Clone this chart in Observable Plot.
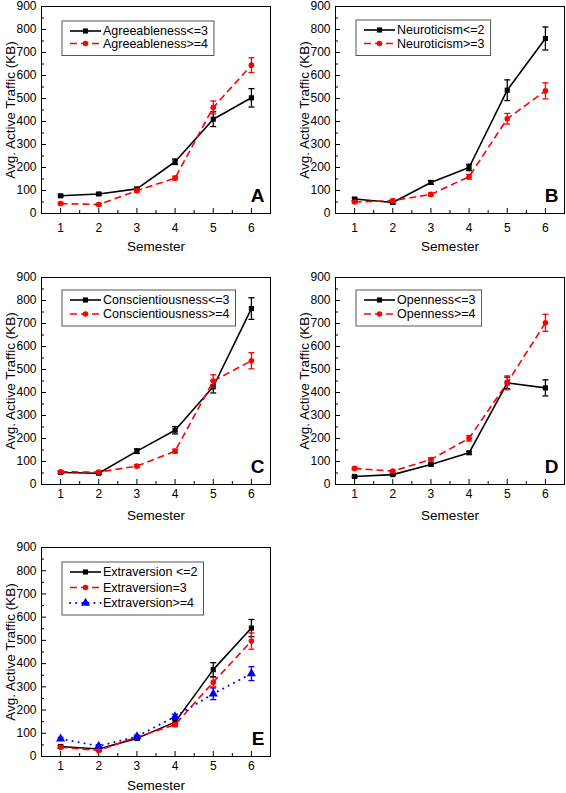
<!DOCTYPE html>
<html><head><meta charset="utf-8">
<script src="https://cdn.jsdelivr.net/npm/d3@7"></script>
<script src="https://cdn.jsdelivr.net/npm/@observablehq/plot@0.6"></script>
<style>
html,body{margin:0;padding:0;background:#fff;}
#root{position:relative;width:566px;height:793px;overflow:hidden;font-family:"Liberation Sans",Arial,sans-serif;}
#root svg{position:absolute;overflow:visible;}
</style></head><body><div id="root"></div>
<script>
// ---------- data ----------
const semesters = [1, 2, 3, 4, 5, 6];
const minorX = [1.5, 2.5, 3.5, 4.5, 5.5];
const yTicks = [0, 100, 200, 300, 400, 500, 600, 700, 800, 900];
const minorY = [50, 150, 250, 350, 450, 550, 650, 750, 850];
const yTitle = "Avg. Active Traffic (KB)";
const xTitle = "Semester";

// A
const agreeLow = [77, 85, 107, 225, 410, 503];
const agreeLowErr = [5, 5, 6, 12, 32, 40];
const agreeHigh = [43, 39, 99, 154, 461, 645];
const agreeHighErr = [5, 5, 6, 8, 28, 32];
// B
const neuroLow = [63, 48, 135, 200, 536, 761];
const neuroLowErr = [6, 5, 8, 14, 45, 50];
const neuroHigh = [50, 56, 83, 160, 412, 533];
const neuroHighErr = [5, 5, 6, 10, 23, 35];
// C
const consLow = [52, 49, 145, 236, 425, 765];
const consLowErr = [5, 5, 10, 16, 27, 47];
const consHigh = [55, 54, 80, 145, 450, 538];
const consHighErr = [5, 5, 6, 8, 27, 35];
// D
const openLow = [35, 43, 87, 138, 442, 420];
const openLowErr = [4, 4, 5, 6, 25, 35];
const openHigh = [70, 58, 109, 201, 442, 703];
const openHighErr = [5, 5, 6, 12, 30, 37];
// E
const extraLow = [43, 32, 78, 148, 374, 553];
const extraLowErr = [5, 5, 6, 10, 30, 37];
const extraMid = [40, 26, 84, 137, 320, 497];
const extraMidErr = [5, 5, 6, 8, 20, 35];
const extraHigh = [76, 45, 86, 172, 270, 357];
const extraHighErr = [6, 6, 6, 10, 25, 30];

// ---------- styles ----------
const styles = {
  black: {color: "#000000", dash: null, cap: "butt", symbol: "square", r: 2.9},
  red: {color: "#ff0000", dash: "7,4", cap: "butt", symbol: "circle", r: 2.8},
  blue: {color: "#0000ff", dash: "0.1,6", cap: "round", symbol: "triangle", r: 3.4}
};

const panels = [
  {letter: "A", left: 0, top: 0, plotH: 207, height: 262, xPad: 15, titleDy: 33, legTop: 15, rowH: 12.5,
   series: [
     {name: "Agreeableness<=3", values: agreeLow, errors: agreeLowErr, style: "black"},
     {name: "Agreeableness>=4", values: agreeHigh, errors: agreeHighErr, style: "red"}]},
  {letter: "B", left: 294, top: 0, plotH: 207, height: 262, xPad: 15, titleDy: 33, legTop: 14, rowH: 13.5,
   series: [
     {name: "Neuroticism<=2", values: neuroLow, errors: neuroLowErr, style: "black"},
     {name: "Neuroticism>=3", values: neuroHigh, errors: neuroHighErr, style: "red"}]},
  {letter: "C", left: 0, top: 271, plotH: 207, height: 263, xPad: 10, titleDy: 31, legTop: 13, rowH: 14,
   series: [
     {name: "Conscientiousness<=3", values: consLow, errors: consLowErr, style: "black"},
     {name: "Conscientiousness>=4", values: consHigh, errors: consHighErr, style: "red"}]},
  {letter: "D", left: 294, top: 271, plotH: 207, height: 263, xPad: 10, titleDy: 31, legTop: 13, rowH: 14,
   series: [
     {name: "Openness<=3", values: openLow, errors: openLowErr, style: "black"},
     {name: "Openness>=4", values: openHigh, errors: openHighErr, style: "red"}]},
  {letter: "E", left: 0, top: 541, plotH: 209, height: 252, xPad: 10, titleDy: 29, legTop: 15, rowH: 15.5,
   series: [
     {name: "Extraversion <=2", values: extraLow, errors: extraLowErr, style: "black"},
     {name: "Extraversion=3", values: extraMid, errors: extraMidErr, style: "red"},
     {name: "Extraversion>=4", values: extraHigh, errors: extraHighErr, style: "blue"}]}
];

const capSymbol = {
  draw(ctx, size) {
    const w = Math.sqrt(size / Math.PI);
    ctx.moveTo(-w, 0); ctx.lineTo(w, 0);
  }
};

const root = document.getElementById("root");
const FONT = "'Liberation Sans', Arial, sans-serif";
const MT = 6;

for (const p of panels) {
  const marks = [
    Plot.axisX(semesters, {tickSize: -5, tickPadding: p.xPad, tickFormat: d => String(d), label: null, fontSize: 12}),
    Plot.axisX(minorX, {tickSize: -3, tickFormat: () => "", label: null}),
    Plot.axisY(yTicks, {tickSize: -5, tickPadding: 10, tickFormat: d => String(d), label: null, fontSize: 12}),
    Plot.axisY(minorY, {tickSize: -3, tickFormat: () => "", label: null})
  ];
  for (const s of p.series) {
    const st = styles[s.style];
    const rows = semesters.map((x, i) => ({x, y: s.values[i], lo: s.values[i] - s.errors[i], hi: s.values[i] + s.errors[i]}));
    marks.push(
      Plot.line(rows, {x: "x", y: "y", stroke: st.color, strokeWidth: st.cap === "round" ? 2 : 1.6, strokeDasharray: st.dash, strokeLinecap: st.cap}),
      Plot.ruleX(rows, {x: "x", y1: "lo", y2: "hi", stroke: st.color, strokeWidth: 1.3}),
      Plot.dot(rows, {x: "x", y: "lo", symbol: capSymbol, r: 3, stroke: st.color, strokeWidth: 1.3, fill: "none"}),
      Plot.dot(rows, {x: "x", y: "hi", symbol: capSymbol, r: 3, stroke: st.color, strokeWidth: 1.3, fill: "none"}),
      Plot.dot(rows, {x: "x", y: "y", symbol: st.symbol, r: st.r, fill: st.color, stroke: "none"})
    );
  }
  marks.push(
    Plot.frame({stroke: "#000", strokeWidth: 1}),
    Plot.text([p.letter], {frameAnchor: "bottom-right", text: d => d, dx: -6, dy: -12, fontSize: 19, fontWeight: "bold", textAnchor: "end", lineAnchor: "bottom"}),
    Plot.text([xTitle], {frameAnchor: "bottom", text: d => d, dy: p.titleDy, fontSize: 13.5, textAnchor: "middle", lineAnchor: "middle"}),
    Plot.text([yTitle], {frameAnchor: "left", text: d => d, dx: -31, rotate: -90, fontSize: 13.5, textAnchor: "middle", lineAnchor: "middle"})
  );
  const svg = Plot.plot({
    width: 283,
    height: p.height,
    marginLeft: 41,
    marginRight: 13,
    marginTop: MT,
    marginBottom: p.height - MT - p.plotH,
    x: {domain: [0.5, 6.5]},
    y: {domain: [0, 900]},
    style: {fontFamily: FONT, fontSize: "12px", color: "#000", background: "transparent"},
    marks
  });
  svg.style.left = p.left + "px";
  svg.style.top = p.top + "px";
  root.appendChild(svg);

  // legend box inside the frame
  const g = d3.select(svg).append("g").attr("font-family", FONT).attr("font-size", 12.5).attr("text-anchor", "start");
  const bx = 41 + 21, by = MT + p.legTop;
  const rect = g.append("rect").attr("x", bx).attr("y", by).attr("fill", "#fff").attr("stroke", "#555").attr("stroke-width", 1);
  let maxW = 0;
  p.series.forEach((s, i) => {
    const st = styles[s.style];
    const cy = by + 10 + i * p.rowH;
    g.append("line").attr("x1", bx + 8).attr("x2", bx + 39).attr("y1", cy).attr("y2", cy)
      .attr("stroke", st.color).attr("stroke-width", st.cap === "round" ? 2 : 1.6)
      .attr("stroke-dasharray", st.dash).attr("stroke-linecap", st.cap);
    const sym = d3.symbol(st.symbol === "square" ? d3.symbolSquare : st.symbol === "circle" ? d3.symbolCircle : d3.symbolTriangle, Math.PI * st.r * st.r);
    g.append("path").attr("d", sym()).attr("transform", `translate(${bx + 23.5},${cy})`).attr("fill", st.color);
    const t = g.append("text").attr("x", bx + 41).attr("y", cy).attr("dy", "0.35em").attr("fill", "#000").text(s.name);
    maxW = Math.max(maxW, t.node().getComputedTextLength());
  });
  const bh = 20 + (p.series.length - 1) * p.rowH + 2;
  rect.attr("width", 41 + maxW + 6).attr("height", bh);
}
</script></body></html>
